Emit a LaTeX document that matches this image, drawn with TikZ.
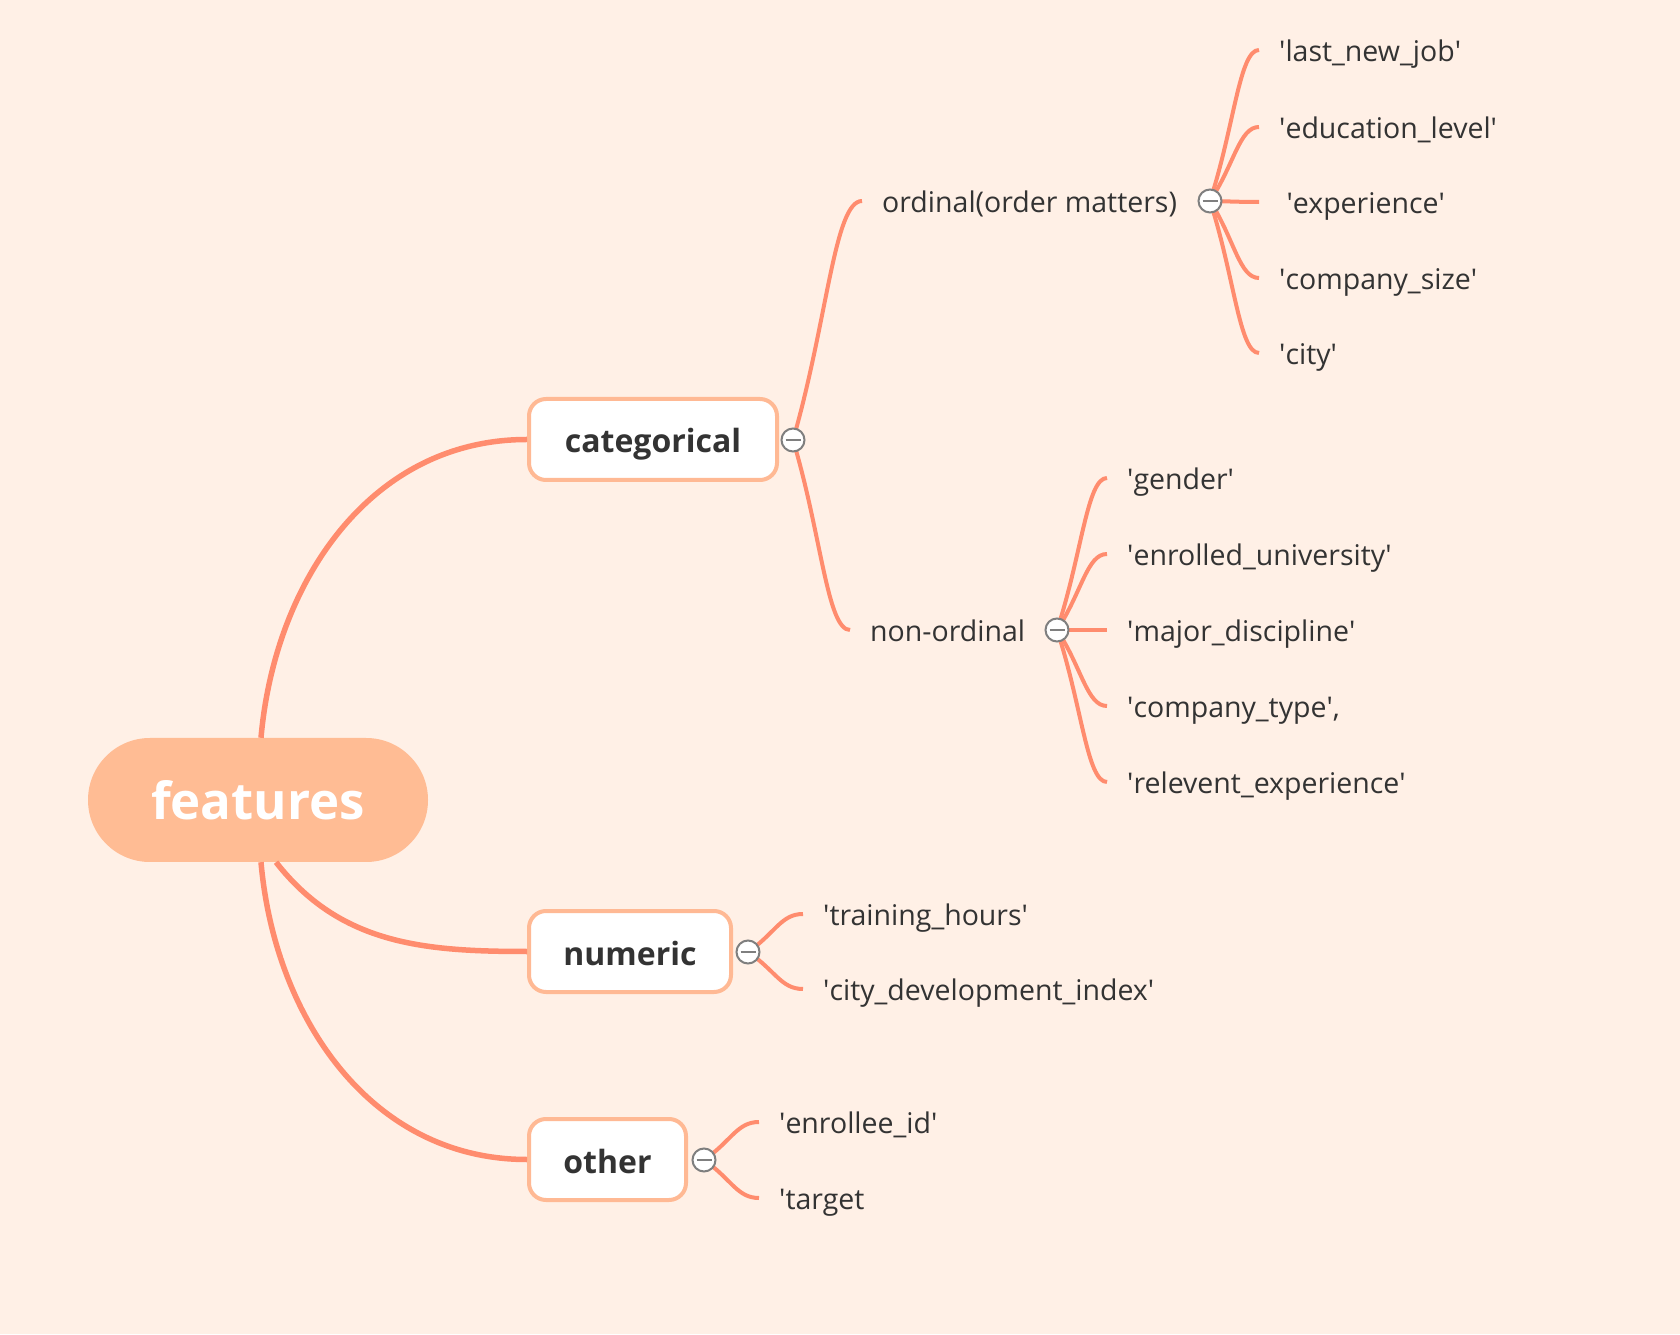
\documentclass[tikz,border=0pt]{standalone}
\usepackage{fontspec}
\setmainfont{Open Sans}
\usetikzlibrary{positioning,calc}

\definecolor{paper}{HTML}{FFF0E6}
\definecolor{branch}{HTML}{FF8C6E}
\definecolor{rootfill}{HTML}{FFBC94}
\definecolor{boxline}{HTML}{FFB994}
\definecolor{ink}{HTML}{333333}
\definecolor{foldgray}{HTML}{7F7F7F}
\newcommand{\tq}{\textquotesingle}

\begin{document}
\begin{tikzpicture}[x=1pt, y=1pt,
    rootnode/.style={fill=rootfill, rounded corners=61.9pt, minimum width=340pt,
        minimum height=124pt, text height=40pt, text depth=0pt, text=white,
        font=\fontsize{51}{60}\selectfont\bfseries},
    topic/.style={draw=boxline, line width=4pt, fill=white, rounded corners=17pt,
        minimum height=81pt, text height=27pt, text depth=0pt, text=ink,
        font=\fontsize{32}{38}\selectfont\bfseries},
    sub/.style={anchor=west, inner xsep=20pt, inner ysep=0pt, text height=23pt,
        text depth=0pt, text=ink, font=\fontsize{28.5}{34}\selectfont},
    leaf/.style={sub},
    fold/.style={circle, draw=foldgray, fill=white, line width=2pt, minimum size=23pt,
        inner sep=0pt, path picture={\draw[foldgray, line width=2.2pt]
            ([xshift=4pt]path picture bounding box.west) --
            ([xshift=-4pt]path picture bounding box.east);}},
    mainline/.style={draw=branch, line width=5.5pt},
    subline/.style={draw=branch, line width=4pt},
    twig/.style={to path={let \p1=(\tikztostart), \p2=(\tikztotarget) in
        .. controls ($(\p1)!0.5!(\p2)$) and ({\x2-0.4*(\x2-\x1)},\y2) .. (\tikztotarget)}}]

    % Canvas
    \fill[paper] (0,0) rectangle (1680,1334);
    \useasboundingbox (0,0) rectangle (1680,1334);

    % Root
    \node[rootnode] (feat) at (258,534) {features};

    % Level 1
    \node[topic, minimum width=248pt] (cat) at (653,894.5) {categorical};
    \node[topic, minimum width=202pt] (num) at (630,382.5) {numeric};
    \node[topic, minimum width=157pt] (oth) at (607.5,174.5) {other};
    \coordinate (catc) at (793,894);
    \coordinate (numc) at (748,382);
    \coordinate (othc) at (704,174);

    % Level 2 - categorical
    \node[sub] (ord) at (862,1133) {ordinal(order matters)};
    \node[sub] (non) at (850,704) {non-ordinal};
    \coordinate (ordc) at (1210,1133);
    \coordinate (nonc) at (1057,704);

    % Leaves - ordinal
    \node[leaf] (lastjob) at (1259,1284) {\tq last\_new\_job\tq};
    \node[leaf] (edu) at (1259,1207) {\tq education\_level\tq};
    \node[leaf] (exper) at (1259,1132) {\ \tq experience\tq};
    \node[leaf] (csize) at (1259,1056) {\tq company\_size\tq};
    \node[leaf] (city) at (1259,981) {\tq city\tq};

    % Leaves - non-ordinal
    \node[leaf] (gender) at (1107,856) {\tq gender\tq};
    \node[leaf] (enuni) at (1107,780) {\tq enrolled\_university\tq};
    \node[leaf] (major) at (1107,704) {\tq major\_discipline\tq};
    \node[leaf] (ctype) at (1107,628) {\tq company\_type\tq,};
    \node[leaf] (relexp) at (1107,552) {\tq relevent\_experience\tq};

    % Leaves - numeric
    \node[leaf] (hours) at (803,420) {\tq training\_hours\tq};
    \node[leaf] (cdi) at (803,345) {\tq city\_development\_index\tq};

    % Leaves - other
    \node[leaf] (eid) at (759,212) {\tq enrollee\_id\tq};
    \node[leaf] (target) at (759,136) {\tq target};

    % Main branches
    \draw[mainline] ([xshift=3pt]feat.north) to[out=85,in=180] (cat.west);
    \draw[mainline] ([xshift=18pt]feat.south) to[out=-52,in=180] (num.west);
    \draw[mainline] ([xshift=3pt]feat.south) to[out=-85,in=180] (oth.west);

    % Sub branches
    \draw[subline] (catc) to[twig] (ord.west);
    \draw[subline] (catc) to[twig] (non.west);

    \draw[subline] (ordc) to[twig] (lastjob.west);
    \draw[subline] (ordc) to[twig] (edu.west);
    \draw[subline] (ordc) to[twig] (exper.west);
    \draw[subline] (ordc) to[twig] (csize.west);
    \draw[subline] (ordc) to[twig] (city.west);

    \draw[subline] (nonc) to[twig] (gender.west);
    \draw[subline] (nonc) to[twig] (enuni.west);
    \draw[subline] (nonc) to[twig] (major.west);
    \draw[subline] (nonc) to[twig] (ctype.west);
    \draw[subline] (nonc) to[twig] (relexp.west);

    \draw[subline] (numc) to[twig] (hours.west);
    \draw[subline] (numc) to[twig] (cdi.west);

    \draw[subline] (othc) to[twig] (eid.west);
    \draw[subline] (othc) to[twig] (target.west);

    % Fold markers
    \node[fold] (catfold) at (catc) {};
    \node[fold] (numfold) at (numc) {};
    \node[fold] (othfold) at (othc) {};
    \node[fold] (ordfold) at (ordc) {};
    \node[fold] (nonfold) at (nonc) {};
\end{tikzpicture}
\end{document}
